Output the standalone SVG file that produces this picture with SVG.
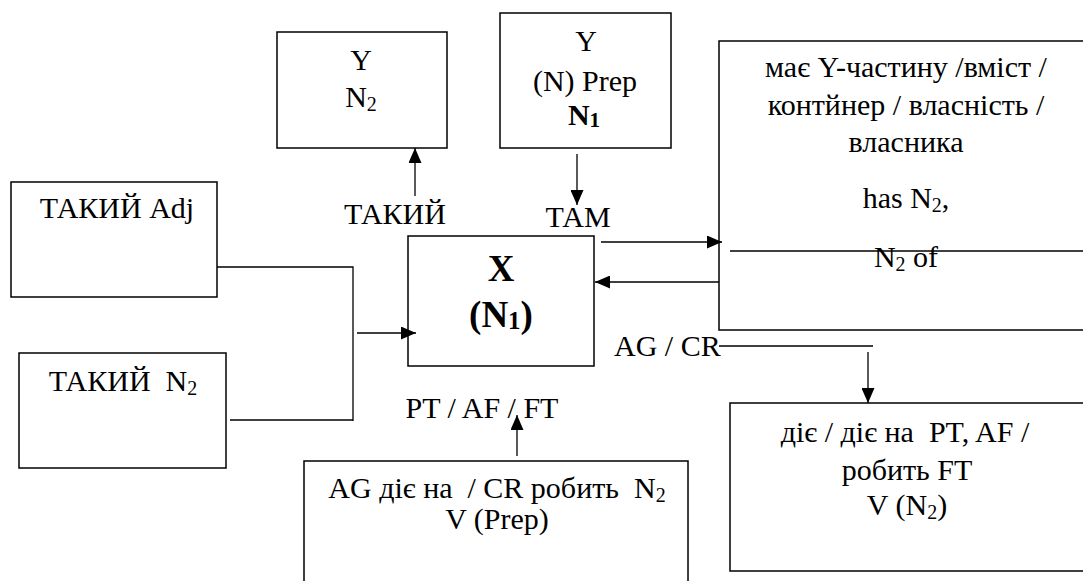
<svg xmlns="http://www.w3.org/2000/svg" width="1083" height="581" viewBox="0 0 1083 581">
<defs>
<style>
.box{fill:#fff;stroke:#000;stroke-width:1.5}
.ln{fill:none;stroke:#000;stroke-width:1.3}
text{font-family:"Liberation Serif","Times New Roman",serif;font-size:30px;fill:#000}
.c{text-anchor:middle}
.b{font-weight:bold}
text.big{font-size:37px}
.sub{font-size:20px}
.subb{font-size:21px}
.subbig{font-size:25px}
</style>
<marker id="ah" markerUnits="userSpaceOnUse" markerWidth="15" markerHeight="13" refX="15" refY="6.5" orient="auto">
<path d="M0,0 L15,6.5 L0,13 z" fill="#000"/>
</marker>
</defs>
<rect width="1083" height="581" fill="#fff"/>

<g id="node-y-n2">
<rect class="box" x="277" y="32" width="170" height="116"/>
<text class="c" x="361" y="70">Y</text>
<text class="c" x="361" y="107">N<tspan class="sub" dy="4">2</tspan></text>
</g>

<g id="node-y-prep-n1">
<rect class="box" x="500" y="13" width="171" height="135"/>
<text class="c" x="586" y="51">Y</text>
<text class="c" x="585" y="91">(N) Prep</text>
<text class="c b" x="584" y="125">N<tspan class="subb" dy="2">1</tspan></text>
</g>

<g id="node-has">
<rect class="box" x="719" y="41" width="375" height="289"/>
<text class="c" x="906" y="77">має Y-частину /вміст /</text>
<text class="c" x="906" y="115">контйнер / власність /</text>
<text class="c" x="906" y="152">власника</text>
<text class="c" x="906" y="208">has N<tspan class="sub" dy="4">2</tspan><tspan dy="-4">,</tspan></text>
<line class="ln" x1="730" y1="251" x2="1083" y2="251"/>
<text class="c" x="906" y="267">N<tspan class="sub" dy="4">2</tspan><tspan dy="-4"> of</tspan></text>
</g>

<g id="node-takyi-adj">
<rect class="box" x="11" y="182" width="206" height="115"/>
<text class="c" x="117" y="218">ТАКИЙ Adj</text>
</g>

<g id="node-takyi-n2">
<rect class="box" x="19" y="353" width="207" height="115"/>
<text class="c" x="123" y="391" xml:space="preserve">ТАКИЙ  N<tspan class="sub" dy="4">2</tspan></text>
</g>

<g id="node-x">
<rect class="box" x="408" y="236" width="186" height="130"/>
<text class="c b big" x="501" y="281">X</text>
<text class="c b big" x="501" y="327">(N<tspan class="subbig" dy="2">1</tspan><tspan dy="-2">)</tspan></text>
</g>

<g id="node-ag-diie">
<rect class="box" x="304" y="461" width="384" height="130"/>
<text class="c" x="497" y="498" xml:space="preserve">AG діє на  / CR робить  N<tspan class="sub" dy="4">2</tspan></text>
<text class="c" x="497" y="529">V (Prep)</text>
</g>

<g id="node-diie">
<rect class="box" x="730" y="403" width="365" height="168"/>
<text class="c" x="905" y="442" xml:space="preserve">діє / діє на  PT, AF /</text>
<text class="c" x="907" y="480">робить FT</text>
<text class="c" x="907" y="515">V (N<tspan class="sub" dy="4">2</tspan><tspan dy="-4">)</tspan></text>
</g>

<g id="labels">
<text class="c" x="395" y="224">ТАКИЙ</text>
<text class="c" x="578" y="227">ТАМ</text>
<text class="c" x="482" y="418">PT / AF / FT</text>
<text x="614" y="356">AG / CR</text>
</g>

<g id="connectors">
<line class="ln" x1="415" y1="196" x2="415" y2="148" marker-end="url(#ah)"/>
<line class="ln" x1="577" y1="154" x2="577" y2="205" marker-end="url(#ah)"/>
<line class="ln" x1="601" y1="242" x2="722" y2="242" marker-end="url(#ah)"/>
<line class="ln" x1="719" y1="282" x2="595" y2="282" marker-end="url(#ah)"/>
<polyline class="ln" points="217,267 353,267 353,421"/>
<line class="ln" x1="230" y1="420" x2="353" y2="420"/>
<line class="ln" x1="357" y1="333" x2="416" y2="333" marker-end="url(#ah)"/>
<line class="ln" x1="517" y1="456" x2="517" y2="415" marker-end="url(#ah)"/>
<line class="ln" x1="719" y1="346" x2="873" y2="346"/>
<line class="ln" x1="868" y1="352" x2="868" y2="403" marker-end="url(#ah)"/>
</g>
</svg>
